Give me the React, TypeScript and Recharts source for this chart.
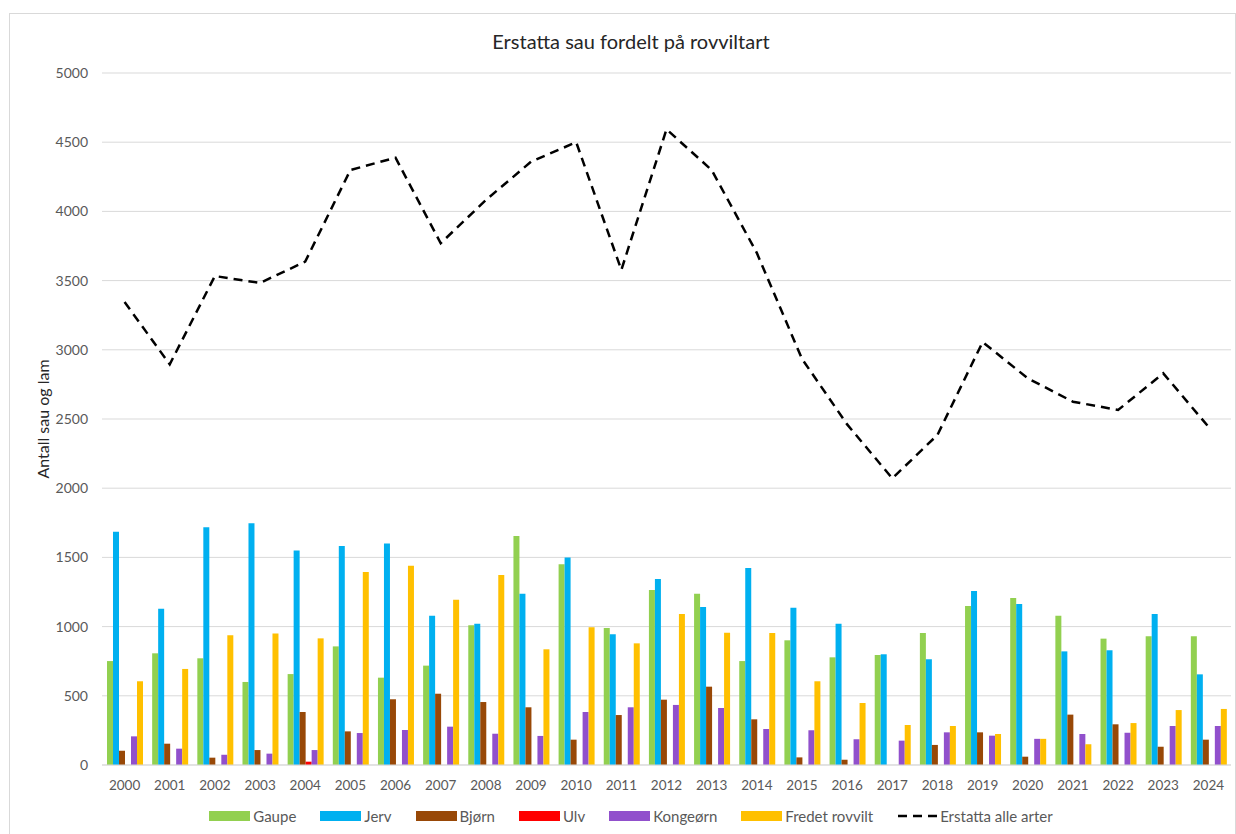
import {
  ComposedChart,
  Bar,
  Line,
  XAxis,
  YAxis,
  CartesianGrid,
} from "recharts";

const years = [
  "2000", "2001", "2002", "2003", "2004", "2005", "2006", "2007", "2008", "2009",
  "2010", "2011", "2012", "2013", "2014", "2015", "2016", "2017", "2018", "2019",
  "2020", "2021", "2022", "2023", "2024",
];
const gaupe = [751, 807, 771, 600, 657, 857, 631, 718, 1009, 1655, 1450, 990, 1264, 1238, 751, 901, 778, 795, 954, 1149, 1207, 1079, 913, 930, 930];
const jerv = [1685, 1129, 1717, 1746, 1549, 1582, 1601, 1079, 1021, 1238, 1500, 944, 1344, 1142, 1423, 1137, 1021, 800, 764, 1257, 1163, 821, 829, 1091, 655];
const bjorn = [103, 154, 53, 108, 383, 243, 475, 515, 455, 417, 183, 361, 472, 566, 330, 55, 38, 0, 145, 236, 60, 364, 294, 132, 183];
const ulv = [0, 0, 0, 0, 24, 0, 0, 0, 0, 0, 0, 0, 0, 0, 0, 0, 0, 0, 0, 0, 0, 0, 0, 0, 0];
const kongeorn = [207, 118, 74, 82, 108, 231, 253, 277, 226, 210, 383, 417, 434, 412, 260, 251, 186, 176, 236, 212, 189, 224, 233, 282, 282];
const fredet = [605, 694, 937, 951, 915, 1394, 1440, 1194, 1373, 836, 995, 879, 1091, 956, 954, 605, 448, 289, 282, 224, 189, 150, 303, 397, 405];
const totalt = [3345, 2895, 3533, 3483, 3637, 4299, 4388, 3770, 4082, 4359, 4500, 3577, 4593, 4299, 3700, 2935, 2461, 2071, 2385, 3056, 2794, 2625, 2565, 2830, 2444];
const yTicks = [0, 500, 1000, 1500, 2000, 2500, 3000, 3500, 4000, 4500, 5000];

const data = years.map((year, i) => ({
  year,
  gaupe: gaupe[i],
  jerv: jerv[i],
  bjorn: bjorn[i],
  ulv: ulv[i],
  kongeorn: kongeorn[i],
  fredet: fredet[i],
  totalt: totalt[i],
}));

const series = [
  { key: "gaupe", name: "Gaupe", color: "#92d050" },
  { key: "jerv", name: "Jerv", color: "#00b0f0" },
  { key: "bjorn", name: "Bjørn", color: "#984807" },
  { key: "ulv", name: "Ulv", color: "#ff0000" },
  { key: "kongeorn", name: "Kongeørn", color: "#9150cc" },
  { key: "fredet", name: "Fredet rovvilt", color: "#ffc000" },
];

const font = "Lato, 'Open Sans', sans-serif";

const App = () => {
  return (
    <div style={{ position: "relative", width: 1236, height: 834, fontFamily: font }}>
      <style>{`body{margin:0;overflow:hidden}`}</style>
      <div
        style={{
          position: "absolute",
          left: 9,
          top: 13,
          width: 1225,
          height: 830,
          border: "1px solid #d9d9d9",
        }}
      />
      <div
        style={{
          position: "absolute",
          left: 0,
          width: 1262,
          top: 29,
          textAlign: "center",
          fontSize: 20,
          color: "#262626",
        }}
      >
        Erstatta sau fordelt på rovviltart
      </div>
      <div
        style={{
          position: "absolute",
          left: 42,
          top: 419,
          transform: "translate(-50%, -50%) rotate(-90deg)",
          whiteSpace: "nowrap",
          fontSize: 16,
          color: "#262626",
        }}
      >
        Antall sau og lam
      </div>
      <div style={{ position: "absolute", left: 10, top: 14 }}>
        <ComposedChart
          width={1224}
          height={790}
          data={data}
          barGap={0}
          margin={{ top: 59, right: 3, bottom: 9, left: 0 }}
        >
          <CartesianGrid vertical={false} stroke="#d9d9d9" strokeWidth={1} />
          <XAxis
            dataKey="year"
            axisLine={{ stroke: "#d9d9d9" }}
            tickLine={false}
            tickMargin={9}
            height={30}
            interval={0}
            tick={{ fontSize: 13.5, fill: "#595959", fontFamily: font }}
          />
          <YAxis
            domain={[0, 5000]}
            ticks={yTicks}
            width={92}
            axisLine={false}
            tickLine={false}
            tickMargin={8}
            tick={{ fontSize: 14, fill: "#595959", fontFamily: font }}
          />
          {series.map((s) => (
            <Bar
              key={s.key}
              dataKey={s.key}
              name={s.name}
              fill={s.color}
              barSize={6}
              isAnimationActive={false}
            />
          ))}
          <Line
            type="linear"
            dataKey="totalt"
            name="Erstatta alle arter"
            stroke="#000000"
            strokeWidth={2.5}
            strokeDasharray="9 6"
            dot={false}
            isAnimationActive={false}
          />
        </ComposedChart>
      </div>
      <div
        style={{
          position: "absolute",
          left: 0,
          width: 1262,
          top: 807,
          display: "flex",
          justifyContent: "center",
          alignItems: "center",
          gap: 24,
          fontSize: 15,
          color: "#595959",
        }}
      >
        {series.map((s) => (
          <div key={s.key} style={{ display: "flex", alignItems: "center", gap: 3 }}>
            <span style={{ display: "inline-block", width: 41, height: 10, background: s.color }} />
            <span>{s.name}</span>
          </div>
        ))}
        <div style={{ display: "flex", alignItems: "center", gap: 3 }}>
          <svg width={40} height={10}>
            <line x1={1} y1={5} x2={40} y2={5} stroke="#000" strokeWidth={2.5} strokeDasharray="9 6" />
          </svg>
          <span>Erstatta alle arter</span>
        </div>
      </div>
    </div>
  );
};

export default App;
